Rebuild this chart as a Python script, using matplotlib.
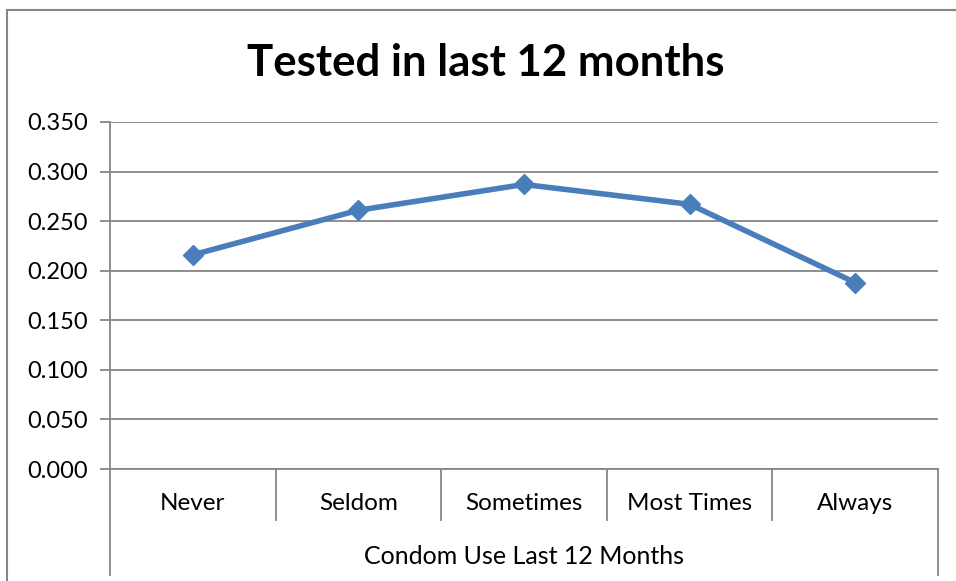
import matplotlib.pyplot as plt
import matplotlib.patches as patches
import matplotlib.transforms as mtransforms

categories = ['Never', 'Seldom', 'Sometimes', 'Most Times', 'Always']
tested = [0.216, 0.261, 0.287, 0.267, 0.188]
y_ticks = [0.0, 0.05, 0.1, 0.15, 0.2, 0.25, 0.3, 0.35]
group_label = 'Condom Use Last 12 Months'

plt.rcParams['font.family'] = ['Lato', 'DejaVu Sans']
grey = '#868686'

fig = plt.figure(figsize=(9.56, 5.81), dpi=100)
fig.patches.append(patches.Rectangle((7 / 956, -0.05), 1.1, 1 - 10 / 581 + 0.05,
                                     transform=fig.transFigure, fill=False,
                                     edgecolor=grey, linewidth=1.5))

ax = fig.add_axes([110 / 956, 1 - 469 / 581, 828 / 956, 347 / 581])
x = list(range(len(categories)))
ax.plot(x, tested, color='#4A7EBB', linewidth=4, marker='D', markersize=10.5,
        zorder=3, clip_on=False)

ax.set_xlim(-0.5, len(categories) - 0.5)
ax.set_ylim(0, 0.35)
ax.set_yticks(y_ticks)
ax.set_yticklabels([f'{v:.3f}' for v in y_ticks])
ax.yaxis.grid(True, color=grey, linewidth=1.3)
ax.set_axisbelow(True)
ax.tick_params(axis='y', length=7, width=1.3, color=grey, labelsize=17, pad=9)
ax.set_xticks([])
for s in ['top', 'right']:
    ax.spines[s].set_visible(False)
ax.spines['left'].set_color(grey)
ax.spines['left'].set_linewidth(1.3)
ax.spines['bottom'].set_color(grey)
ax.spines['bottom'].set_linewidth(1.3)

# two-level category axis
trans = mtransforms.blended_transform_factory(ax.transData, ax.transAxes)
n = len(categories)
for i in range(n + 1):
    edge = i - 0.5
    bottom = -0.305 if i in (0, n) else -0.147
    ax.plot([edge, edge], [0, bottom], transform=trans, color=grey,
            linewidth=1.3, clip_on=False)
for i, c in enumerate(categories):
    ax.text(i, -0.10, c, transform=trans, ha='center', va='center', fontsize=17.5)
ax.text((n - 1) / 2, -0.252, group_label, transform=trans, ha='center',
        va='center', fontsize=18)

fig.text(486 / 956, 1 - 63 / 581, 'Tested in last 12 months', ha='center',
         va='center', fontsize=31.5, fontweight='bold')

fig.savefig('out.png', dpi=100)
